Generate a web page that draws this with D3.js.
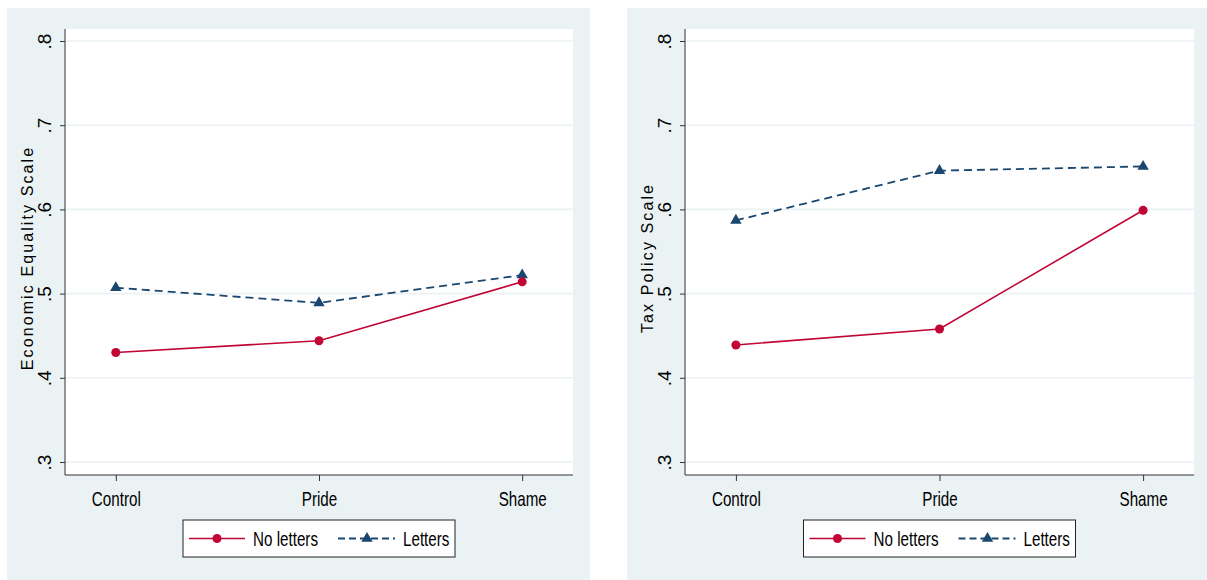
<!DOCTYPE html>
<html>
<head>
<meta charset="utf-8">
<script src="https://cdn.jsdelivr.net/npm/d3@7/dist/d3.min.js"></script>
<style>
  html, body { margin: 0; padding: 0; background: #ffffff; }
  svg { display: block; }
</style>
</head>
<body>
<svg id="chart" width="1207" height="580"></svg>
<script>
// Treatment groups along the x axis
const categories = ["Control", "Pride", "Shame"];

// Y axis ticks and their printed labels
const yTicks = [0.3, 0.4, 0.5, 0.6, 0.7, 0.8];
const yTickLabels = [".3", ".4", ".5", ".6", ".7", ".8"];

// Series names for the legend
const seriesNames = ["No letters", "Letters"];

// Panel titles (y axis titles)
const panelTitles = ["Economic Equality Scale", "Tax Policy Scale"];

// Group means, Economic Equality Scale
const econNoLetters = [0.430, 0.444, 0.514];
const econLetters   = [0.507, 0.489, 0.522];

// Group means, Tax Policy Scale
const taxNoLetters = [0.439, 0.458, 0.599];
const taxLetters   = [0.587, 0.646, 0.651];

// ---------------------------------------------------------------
const BG = "#eaf2f3";
const RED = "#c10534";
const NAVY = "#1a476f";
const FONT = "'Liberation Sans', Arial, sans-serif";
const SQUEEZE = 0.76;   // condensed look for the axis and legend labels

const svg = d3.select("#chart");

const panels = [
  { title: panelTitles[0], noLetters: econNoLetters, letters: econLetters,
    bg: { x0: 7, x1: 590 }, plot: { x0: 65, x1: 573 } },
  { title: panelTitles[1], noLetters: taxNoLetters, letters: taxLetters,
    bg: { x0: 627, x1: 1207 }, plot: { x0: 685, x1: 1194 } }
];

const plotTop = 29, plotBottom = 475;
const bgTop = 8;

const y = d3.scaleLinear().domain([0.3, 0.8]).range([462, 41]);

panels.forEach(p => {
  const g = svg.append("g");

  // outer graph region
  g.append("rect")
    .attr("x", p.bg.x0).attr("y", bgTop)
    .attr("width", p.bg.x1 - p.bg.x0).attr("height", 580 - bgTop)
    .attr("fill", BG);

  // plot region
  g.append("rect")
    .attr("x", p.plot.x0).attr("y", plotTop)
    .attr("width", p.plot.x1 - p.plot.x0).attr("height", plotBottom - plotTop)
    .attr("fill", "#ffffff");

  const x = d3.scalePoint()
    .domain(categories)
    .range([p.plot.x0, p.plot.x1])
    .padding(0.25);

  // horizontal grid lines
  g.append("g")
    .selectAll("line")
    .data(yTicks)
    .join("line")
    .attr("x1", p.plot.x0).attr("x2", p.plot.x1)
    .attr("y1", d => y(d)).attr("y2", d => y(d))
    .attr("stroke", BG).attr("stroke-width", 1.6);

  // y axis
  const yAxis = d3.axisLeft(y)
    .tickValues(yTicks)
    .tickFormat((d, i) => yTickLabels[i])
    .tickSize(5)
    .tickPadding(0);
  const ya = g.append("g")
    .attr("transform", `translate(${p.plot.x0},0)`)
    .call(yAxis);
  ya.select(".domain").remove();
  ya.selectAll(".tick line").attr("stroke", "#333").attr("stroke-width", 1);
  ya.selectAll(".tick text")
    .attr("font-family", FONT)
    .attr("font-size", 19)
    .attr("fill", "#000")
    .attr("text-anchor", "middle")
    .attr("x", null).attr("dy", null)
    .attr("transform", "translate(-14,0) rotate(-90)");
  ya.append("line")
    .attr("x1", 0).attr("x2", 0)
    .attr("y1", plotTop).attr("y2", plotBottom)
    .attr("stroke", "#333").attr("stroke-width", 1);

  // x axis
  const xAxis = d3.axisBottom(x).tickSize(6).tickPadding(11);
  const xa = g.append("g")
    .attr("transform", `translate(0,${plotBottom})`)
    .call(xAxis);
  xa.select(".domain").remove();
  xa.append("line")
    .attr("x1", p.plot.x0).attr("x2", p.plot.x1)
    .attr("y1", 0).attr("y2", 0)
    .attr("stroke", "#333").attr("stroke-width", 1);
  xa.selectAll(".tick line").attr("stroke", "#333").attr("stroke-width", 1);
  xa.selectAll(".tick text")
    .attr("font-family", FONT)
    .attr("font-size", 20)
    .attr("fill", "#000")
    .attr("transform", `scale(${SQUEEZE},1)`);

  // y axis title
  const cy = (plotTop + plotBottom) / 2 + 6;
  g.append("text")
    .attr("transform", `translate(${p.plot.x0 - 32},${cy}) rotate(-90)`)
    .attr("text-anchor", "middle")
    .attr("font-family", FONT)
    .attr("font-size", 16)
    .attr("letter-spacing", 2.1)
    .attr("fill", "#000")
    .text(p.title);

  // series lines
  const line = d3.line()
    .x((d, i) => x(categories[i]))
    .y(d => y(d));

  g.append("path")
    .datum(p.letters)
    .attr("d", line)
    .attr("fill", "none")
    .attr("stroke", NAVY)
    .attr("stroke-width", 1.8)
    .attr("stroke-dasharray", "8,5");

  g.append("path")
    .datum(p.noLetters)
    .attr("d", line)
    .attr("fill", "none")
    .attr("stroke", RED)
    .attr("stroke-width", 1.6);

  // markers
  const tri = d3.symbol().type(d3.symbolTriangle).size(56);

  g.append("g")
    .selectAll("path")
    .data(p.letters)
    .join("path")
    .attr("d", tri)
    .attr("transform", (d, i) => `translate(${x(categories[i])},${y(d)})`)
    .attr("fill", NAVY);

  g.append("g")
    .selectAll("circle")
    .data(p.noLetters)
    .join("circle")
    .attr("cx", (d, i) => x(categories[i]))
    .attr("cy", d => y(d))
    .attr("r", 4.5)
    .attr("fill", RED);

  // legend
  const lw = 272, lh = 37;
  const lx = x("Pride") - lw / 2, ly = 520;
  const lg = g.append("g").attr("transform", `translate(${lx},${ly})`);
  lg.append("rect")
    .attr("x", 0).attr("y", 0).attr("width", lw).attr("height", lh)
    .attr("fill", "#fff").attr("stroke", "#222").attr("stroke-width", 1);

  const my = lh / 2;
  lg.append("line")
    .attr("x1", 6).attr("x2", 62).attr("y1", my).attr("y2", my)
    .attr("stroke", RED).attr("stroke-width", 1.6);
  lg.append("circle")
    .attr("cx", 34).attr("cy", my).attr("r", 4.5).attr("fill", RED);
  lg.append("text")
    .attr("transform", `translate(70,${my + 7}) scale(${SQUEEZE},1)`)
    .attr("font-family", FONT).attr("font-size", 20).attr("fill", "#000")
    .text(seriesNames[0]);

  lg.append("line")
    .attr("x1", 155).attr("x2", 212).attr("y1", my).attr("y2", my)
    .attr("stroke", NAVY).attr("stroke-width", 1.8)
    .attr("stroke-dasharray", "7,4");
  lg.append("path")
    .attr("d", tri)
    .attr("transform", `translate(184,${my})`)
    .attr("fill", NAVY);
  lg.append("text")
    .attr("transform", `translate(220,${my + 7}) scale(${SQUEEZE},1)`)
    .attr("font-family", FONT).attr("font-size", 20).attr("fill", "#000")
    .text(seriesNames[1]);
});
</script>
</body>
</html>
